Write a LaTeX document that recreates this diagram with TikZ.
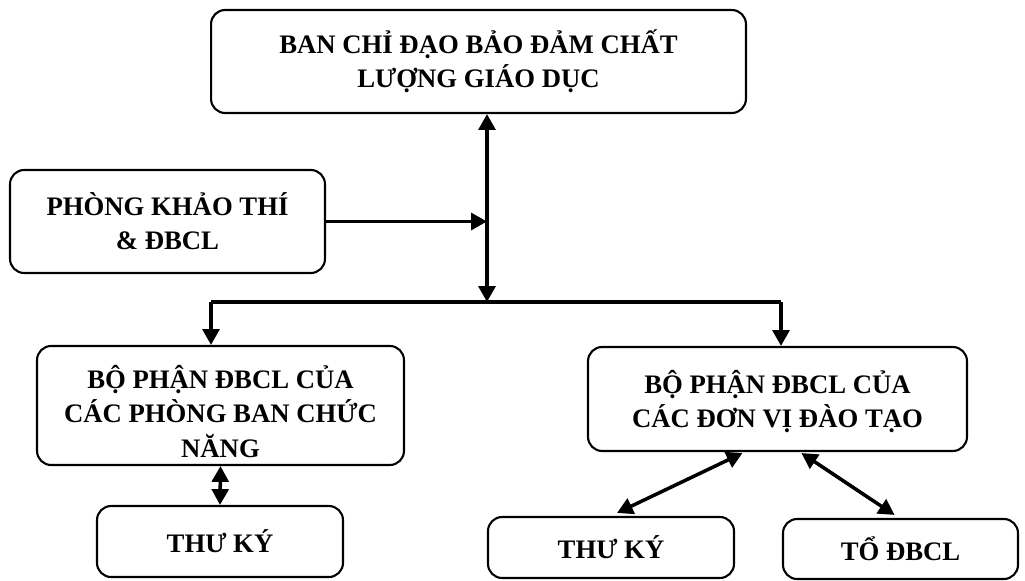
\documentclass[tikz,border=0pt]{standalone}
\usepackage{fontspec}
\setmainfont{Liberation Serif}
\usetikzlibrary{positioning, arrows.meta, calc}

\begin{document}
\begin{tikzpicture}[
        x=0.02cm, y=-0.02cm,
        box/.style={rectangle, rounded corners=8pt, draw=black, line width=1.2pt, align=center, inner sep=0pt, font=\fontsize{15.2}{19.5}\selectfont\bfseries},
        arrow/.style={-{Triangle[length=9pt, width=9.5pt]}, line width=2pt},
        dblarrow/.style={{Triangle[length=9pt, width=9.5pt]}-{Triangle[length=9pt, width=9.5pt]}, line width=2pt}
    ]
    \useasboundingbox (0,0) rectangle (1025,581);

    \node[box, minimum width=10.7cm, minimum height=2.06cm] (bcd) at (478.5,61.5) {BAN CHỈ ĐẠO BẢO ĐẢM CHẤT \\ LƯỢNG GIÁO DỤC};
    \node[box, minimum width=6.3cm, minimum height=2.06cm] (ktdbcl) at (167.5,221.5) {PHÒNG KHẢO THÍ \\ \& ĐBCL};
    \node[box, minimum width=7.34cm, minimum height=2.38cm] (bpcn) at (220.5,405.5) {\rule{0pt}{20pt}BỘ PHẬN ĐBCL CỦA \\ CÁC PHÒNG BAN CHỨC \\ NĂNG};
    \node[box, minimum width=7.58cm, minimum height=2.08cm] (bpdt) at (777.5,399) {\rule{0pt}{16pt}BỘ PHẬN ĐBCL CỦA \\ CÁC ĐƠN VỊ ĐÀO TẠO};
    \node[box, minimum width=4.92cm, minimum height=1.42cm] (tk1) at (220,541.5) {THƯ KÝ};
    \node[box, minimum width=4.92cm, minimum height=1.22cm] (tk2) at (611,547.5) {THƯ KÝ};
    \node[box, minimum width=4.7cm, minimum height=1.2cm] (todbcl) at (900.5,549) {TỔ ĐBCL};

    % spine and branches
    \coordinate (hub) at (487,302);
    \coordinate (lb) at (211,302);
    \coordinate (rb) at (781,302);

    \draw[dblarrow] (hub |- bcd.south) -- (hub);
    \draw[arrow] (ktdbcl.east) -- (ktdbcl.east -| hub);
    \draw[line width=2pt] (lb) -- (rb);
    \draw[arrow] (lb) -- (lb |- bpcn.north);
    \draw[arrow] (rb) -- (rb |- bpdt.north);

    \draw[dblarrow] (bpcn.south) -- (tk1.north);
    \draw[dblarrow] ($(bpdt.south)+(-35,1)$) -- ($(tk2.north)+(6,-3)$);
    \draw[dblarrow] ($(bpdt.south)+(24,1)$) -- ($(todbcl.north)+(-6,-3)$);

\end{tikzpicture}
\end{document}
